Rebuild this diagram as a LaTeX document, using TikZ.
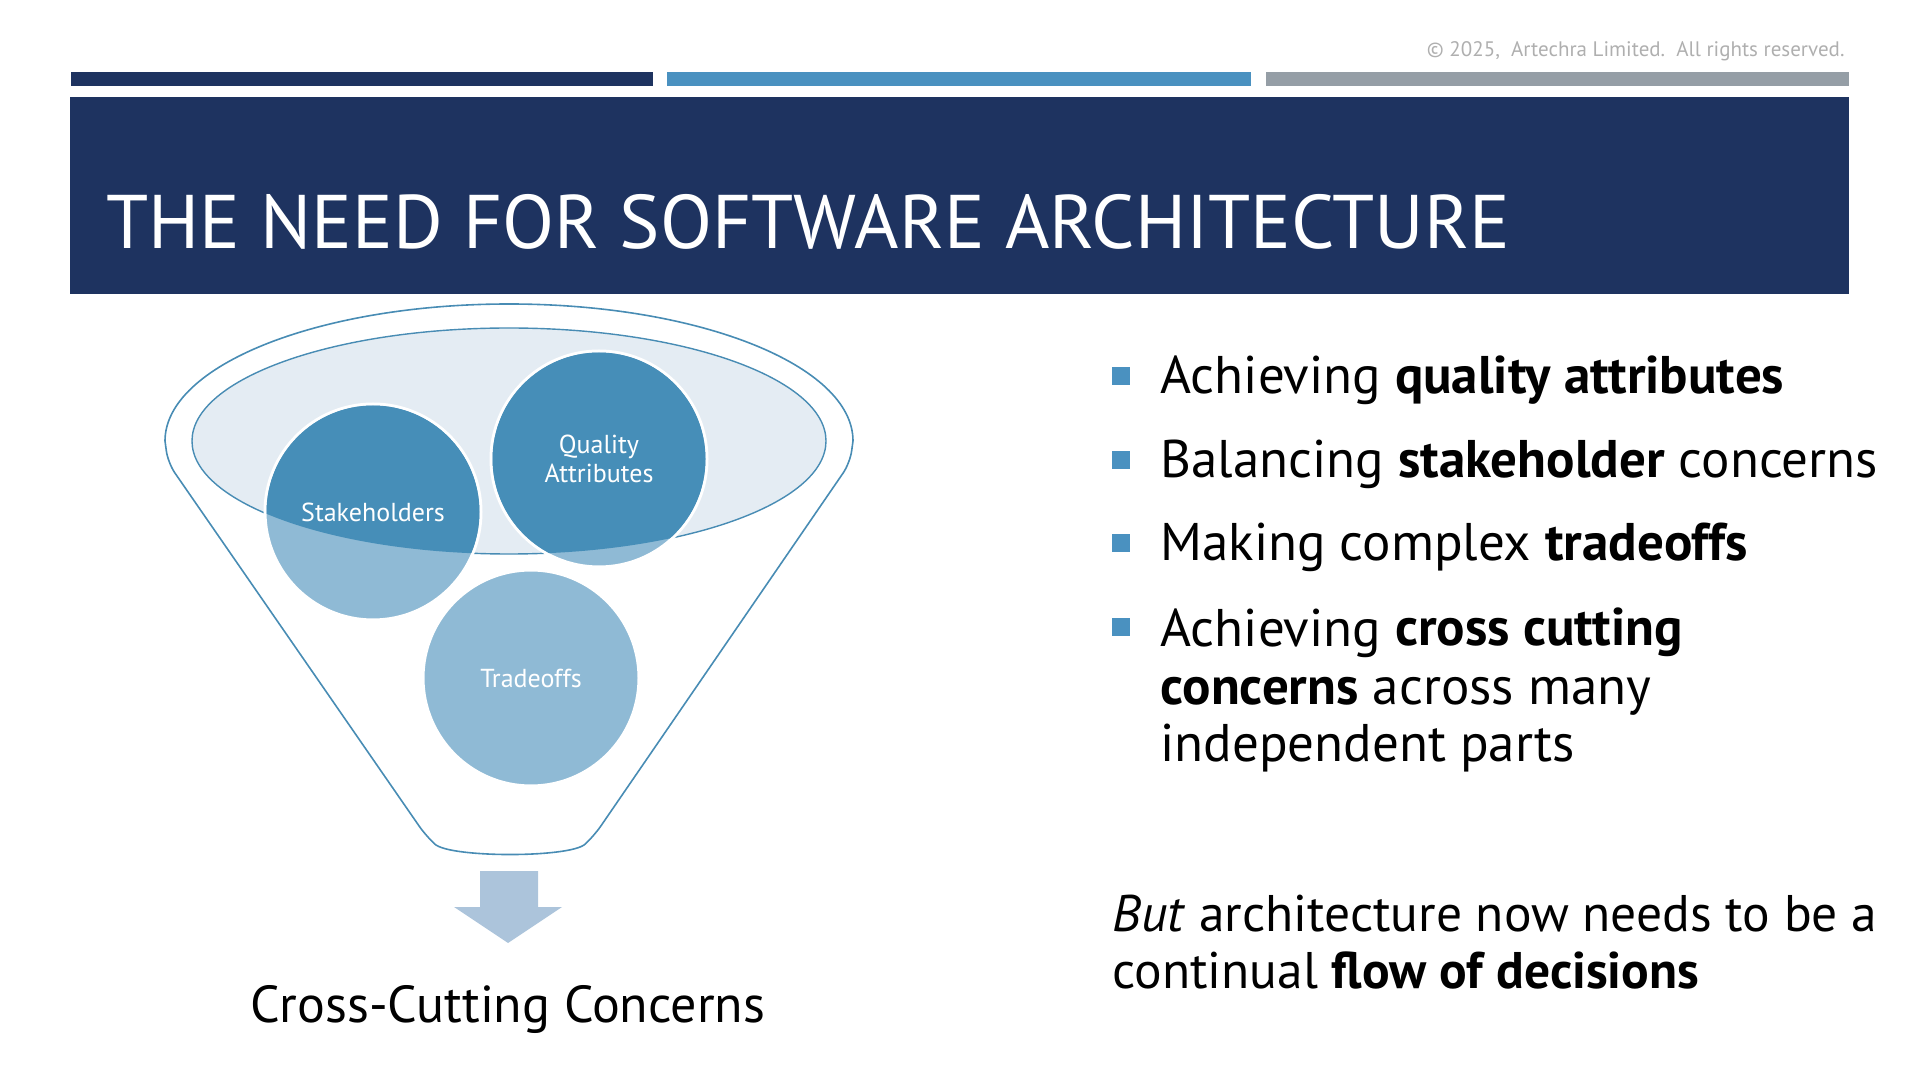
\documentclass[tikz,border=0pt]{standalone}
\usepackage{fontspec}
\setmainfont{PT Sans}
\usetikzlibrary{
  positioning,
  shapes.geometric
}
\definecolor{navy}{RGB}{30,51,96}
\definecolor{midblue}{RGB}{74,145,192}
\definecolor{slate}{RGB}{149,158,166}
\definecolor{darkbubble}{RGB}{70,142,184}
\definecolor{lightbubble}{RGB}{143,186,213}
\definecolor{rimfill}{RGB}{228,236,243}
\definecolor{rimline}{RGB}{72,140,180}
\definecolor{arrowfill}{RGB}{172,196,219}
\definecolor{notegray}{RGB}{175,175,175}

\begin{document}
\begin{tikzpicture}[x=1pt, y=1pt,
            bar/.style={fill=#1, draw=none},
            bubble/.style={circle, fill=lightbubble, draw=white, line width=3pt, minimum size=216pt, inner sep=0pt},
            bubblelabel/.style={text=white, font=\fontsize{26}{29}\selectfont, align=center},
            bullettext/.style={anchor=base west, font=\fontsize{53}{58}\selectfont, align=left},
            bulletsq/.style={rectangle, fill=midblue, minimum size=18pt, inner sep=0pt},
            closing/.style={anchor=base west, font=\fontsize{51.5}{57}\selectfont, align=left}]
  \useasboundingbox (0,0) rectangle (1920,1080);
  % header bars and title band
  \fill[bar=navy] (71,994) rectangle (653,1008);
  \fill[bar=midblue] (667,994) rectangle (1251,1008);
  \fill[bar=slate] (1266,994) rectangle (1849,1008);
  \fill[bar=navy] (70,786) rectangle (1849,983);
  \node[anchor=east, text=notegray, font=\fontsize{21}{24}\selectfont] (note) at (1848,1029) {© 2025,\ \ Artechra Limited.\ \ All rights reserved.};
  \node[anchor=base west, text=white, font=\fontsize{76}{80}\selectfont, inner sep=0pt] (title) at (106,831) {THE NEED FOR SOFTWARE ARCHITECTURE};

  % funnel
  \draw[rimline, line width=1.6pt, rounded corners=12pt] (165,639) -- (168,617) -- (426,244)
    .. controls (450,222) and (570,222) .. (594,244) -- (850,617) -- (853,639);
  \draw[rimline, line width=1.6pt] (853,639) arc[start angle=0, end angle=180, x radius=344, y radius=137];
  \draw[rimline, line width=1.4pt, fill=rimfill] (509,639) ellipse [x radius=317, y radius=113];

  \node[bubble] (stake) at (373,568) {};
  \node[bubble] (quality) at (599,621) {};
  \node[bubble] (trade) at (531,402) {};
  \begin{scope}
    \clip (509,639) ellipse [x radius=317, y radius=113];
    \fill[darkbubble] (stake) circle [radius=106.5];
    \fill[darkbubble] (quality) circle [radius=106.5];
  \end{scope}
  \node[bubblelabel] at (stake) {Stakeholders};
  \node[bubblelabel] at (quality) {Quality\\Attributes};
  \node[bubblelabel] at (trade) {Tradeoffs};

  \fill[arrowfill] (480,209) -- (538,209) -- (538,173) -- (562,173) -- (508,137) -- (454,173) -- (480,173) -- cycle;
  \node[anchor=base, font=\fontsize{52}{60}\selectfont] (cross) at (508,58) {Cross-Cutting Concerns};

  % bullet list (multi-line nodes sit on their last baseline)
  \node[bullettext] (b1) at (1157,686) {Achieving \textbf{quality attributes}};
  \node[bullettext] (b2) at (1157,602) {Balancing \textbf{stakeholder} concerns};
  \node[bullettext] (b3) at (1157,519) {Making complex \textbf{tradeoffs}};
  \node[bullettext] (b4) at (1157,318) {Achieving \textbf{cross cutting}\\\textbf{concerns} across many\\independent parts};
  \foreach \b/\y in {b1/686, b2/602, b3/519, b4/435}
    \node[bulletsq] at (1121,\y+18) {};

  \node[closing] (but) at (1109,92) {\textit{But} architecture now needs to be a\\continual \textbf{flow of decisions}};
\end{tikzpicture}
\end{document}
